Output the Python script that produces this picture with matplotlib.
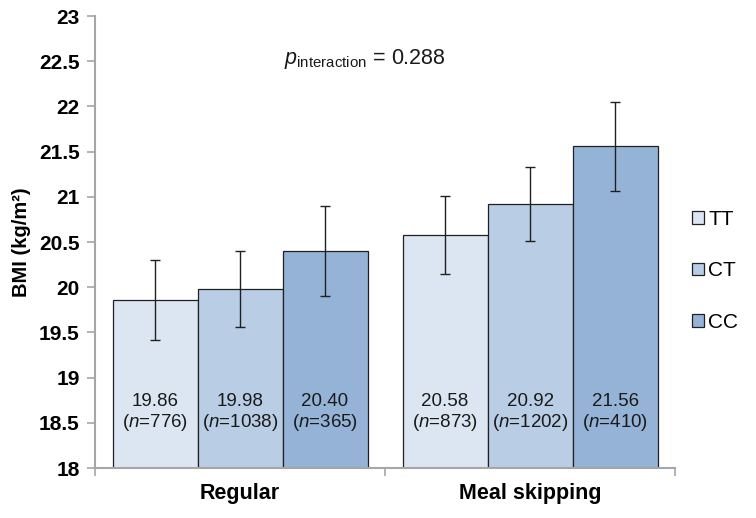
import matplotlib.pyplot as plt
import numpy as np

plt.rcParams['font.family'] = ['Liberation Sans', 'DejaVu Sans']
plt.rcParams['mathtext.fontset'] = 'custom'
plt.rcParams['mathtext.rm'] = 'Liberation Sans'
plt.rcParams['mathtext.it'] = 'Liberation Sans:italic'

groups = ['Regular', 'Meal skipping']
genotypes = ['TT', 'CT', 'CC']
bmi = {'TT': [19.86, 20.58], 'CT': [19.98, 20.92], 'CC': [20.40, 21.56]}
err = {'TT': [0.44, 0.43], 'CT': [0.42, 0.41], 'CC': [0.50, 0.49]}
n = {'TT': [776, 873], 'CT': [1038, 1202], 'CC': [365, 410]}
colors = {'TT': '#DCE6F2', 'CT': '#B9CDE5', 'CC': '#95B3D7'}

fig = plt.figure(figsize=(7.56, 5.18), dpi=100)
ax = fig.add_axes([0.1257, 0.0965, 0.893 - 0.1257, 0.969 - 0.0965])

x = np.arange(len(groups))
w = 0.293
for i, g in enumerate(genotypes):
    pos = x + (i - 1) * w
    ax.bar(pos, np.array(bmi[g]) - 18, w, bottom=18, color=colors[g],
           edgecolor='#202020', linewidth=0.9, label=g, zorder=2)
    ax.errorbar(pos, bmi[g], yerr=err[g], fmt='none', ecolor='#202020',
                elinewidth=1, capsize=3.5, capthick=1, zorder=3)
    for p, v, k in zip(pos, bmi[g], n[g]):
        ax.text(p, 18.61, f"{v:.2f}\n($\\it{{n}}$={k})", ha='center', va='center',
                fontsize=13.5, color='#1a1a1a', linespacing=1.15, zorder=4)

ax.text(0.43, 22.53, r"$p_{\mathrm{interaction}}$ = 0.288", ha='center', va='center',
        fontsize=15.5, color='#1a1a1a')

ax.set_xlim(-0.5, 1.5)
ax.set_ylim(18, 23)
ax.set_yticks(np.arange(18, 23.01, 0.5))
ax.set_yticklabels(['18', '18.5', '19', '19.5', '20', '20.5', '21', '21.5', '22', '22.5', '23'],
                   fontsize=15, fontweight='bold')
ax.set_xticks(x)
ax.set_xticklabels(groups, fontsize=15.5, fontweight='bold')
ax.tick_params(axis='x', length=0, pad=11)
ax.set_xticks([-0.5, 0.5, 1.5], minor=True)
ax.tick_params(axis='x', which='minor', length=6, color='#A6A6A6', width=1.2)
ax.tick_params(axis='y', length=6, color='#A6A6A6', width=1.2, pad=5)
ax.set_ylabel('BMI (kg/m²)', fontsize=14.5, fontweight='bold', labelpad=6)

for s in ['top', 'right']:
    ax.spines[s].set_visible(False)
for s in ['left', 'bottom']:
    ax.spines[s].set_color('#A6A6A6')
    ax.spines[s].set_linewidth(1.5)

fig.legend(loc='center left', bbox_to_anchor=(0.916, 0.477), frameon=False,
           fontsize=15, labelspacing=1.55, handlelength=0.55, handleheight=0.55,
           handletextpad=0.2, borderpad=0, borderaxespad=0)

fig.savefig('out.png', dpi=100)
